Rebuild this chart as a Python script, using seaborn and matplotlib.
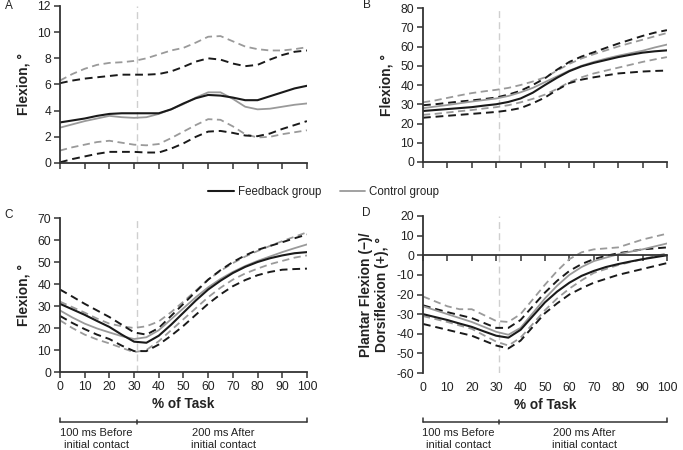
import numpy as np
import pandas as pd
import matplotlib
matplotlib.use("Agg")
import matplotlib.pyplot as plt
import matplotlib.transforms as mtransforms
from matplotlib.lines import Line2D
import seaborn as sns

# % of task, sampled every 5 %
pct = list(range(0, 101, 5))

# Panel A - flexion (deg)
a_fb_mean = [3.1, 3.25, 3.4, 3.6, 3.75, 3.8, 3.8, 3.8, 3.8, 4.1, 4.55, 4.95, 5.2, 5.15, 5.0, 4.8, 4.8, 5.1, 5.4, 5.7, 5.9]
a_ct_mean = [2.7, 2.95, 3.2, 3.4, 3.6, 3.5, 3.45, 3.5, 3.75, 4.1, 4.5, 5.0, 5.4, 5.4, 4.9, 4.3, 4.1, 4.15, 4.3, 4.45, 4.55]
a_fb_hi = [6.1, 6.3, 6.45, 6.55, 6.65, 6.75, 6.75, 6.75, 6.8, 7.0, 7.35, 7.75, 8.0, 7.9, 7.6, 7.4, 7.5, 7.9, 8.25, 8.5, 8.6]
a_ct_hi = [6.3, 6.8, 7.2, 7.5, 7.65, 7.7, 7.8, 8.0, 8.3, 8.6, 8.8, 9.2, 9.65, 9.7, 9.3, 8.9, 8.7, 8.6, 8.6, 8.7, 8.85]
a_fb_lo = [0.05, 0.3, 0.5, 0.7, 0.85, 0.85, 0.85, 0.8, 0.8, 1.1, 1.5, 2.0, 2.4, 2.45, 2.3, 2.1, 2.05, 2.25, 2.6, 2.9, 3.2]
a_ct_lo = [0.95, 1.2, 1.4, 1.6, 1.7, 1.55, 1.4, 1.35, 1.45, 1.9, 2.4, 2.9, 3.35, 3.3, 2.8, 2.2, 1.95, 2.0, 2.2, 2.35, 2.5]

# Panel B
b_fb_mean = [26.5, 27.0, 27.5, 28.0, 28.5, 29.3, 30.0, 31.2, 33.0, 36.0, 40.0, 43.8, 47.2, 49.7, 51.5, 53.0, 54.5, 55.7, 56.8, 57.5, 58.0]
b_ct_mean = [28.0, 28.8, 29.6, 30.5, 31.4, 32.2, 33.0, 34.3, 36.2, 38.5, 41.5, 44.5, 47.5, 50.0, 52.0, 53.7, 55.2, 56.5, 57.8, 59.5, 61.0]
b_fb_hi = [29.5, 30.0, 30.7, 31.4, 32.0, 32.7, 33.5, 35.0, 37.0, 40.0, 43.5, 48.0, 52.0, 54.8, 57.0, 59.3, 61.5, 63.5, 65.5, 67.2, 68.5]
b_ct_hi = [31.0, 32.0, 33.3, 34.6, 35.8, 36.7, 37.5, 38.5, 40.0, 41.8, 44.0, 47.5, 51.0, 53.8, 56.0, 58.0, 60.0, 61.8, 63.5, 65.3, 67.0]
b_fb_lo = [23.0, 23.5, 24.0, 24.5, 25.0, 25.5, 26.0, 26.8, 28.0, 30.5, 33.5, 37.5, 41.0, 42.8, 44.0, 45.0, 46.0, 46.5, 47.0, 47.3, 47.5]
b_ct_lo = [24.5, 25.0, 25.7, 26.4, 27.0, 27.8, 28.5, 29.5, 31.0, 32.8, 35.0, 38.0, 41.5, 44.0, 46.0, 47.5, 49.0, 50.5, 52.0, 53.3, 54.5]

# Panel C
c_fb_mean = [31.0, 28.5, 26.0, 23.2, 20.5, 17.0, 13.8, 13.3, 16.5, 21.5, 27.0, 32.5, 37.5, 41.5, 45.0, 47.8, 50.0, 51.7, 53.0, 54.0, 54.5]
c_ct_mean = [28.0, 24.8, 22.0, 19.8, 18.0, 16.3, 15.0, 15.8, 19.0, 24.0, 29.0, 34.0, 38.5, 42.3, 45.5, 48.2, 50.5, 52.5, 54.5, 56.3, 58.0]
c_fb_hi = [37.5, 34.3, 31.0, 28.0, 25.0, 21.5, 18.0, 17.0, 20.0, 25.5, 31.0, 36.5, 42.0, 46.3, 50.0, 53.0, 55.5, 57.3, 59.0, 60.8, 62.5]
c_ct_hi = [32.0, 29.5, 27.0, 24.3, 22.0, 20.8, 20.0, 20.8, 23.0, 27.2, 32.0, 37.0, 42.0, 46.0, 49.5, 52.5, 55.0, 57.3, 59.5, 61.5, 63.5]
c_fb_lo = [25.5, 22.3, 19.5, 17.0, 15.0, 12.0, 9.5, 9.5, 12.5, 16.5, 21.0, 26.0, 31.0, 35.3, 39.0, 41.8, 44.0, 45.5, 46.5, 46.8, 47.0]
c_ct_lo = [23.5, 20.0, 17.0, 14.8, 13.0, 11.0, 9.0, 10.0, 14.0, 19.0, 24.0, 29.0, 34.0, 38.3, 42.0, 44.8, 47.0, 49.0, 50.5, 52.0, 53.0]

# Panel D - plantar flexion (-) / dorsiflexion (+)
d_fb_mean = [-30.0, -31.5, -33.0, -34.8, -36.5, -38.8, -41.0, -42.0, -38.0, -31.0, -24.0, -18.5, -14.0, -10.5, -8.0, -6.0, -4.5, -3.2, -2.0, -1.0, 0.0]
d_ct_mean = [-26.0, -28.0, -30.0, -32.0, -34.0, -36.5, -39.0, -40.5, -37.0, -29.5, -22.0, -15.5, -10.0, -6.0, -3.0, -1.2, 0.5, 1.8, 3.0, 4.5, 6.0]
d_fb_hi = [-25.5, -27.3, -29.0, -30.5, -32.0, -34.5, -37.0, -37.0, -33.0, -26.0, -19.0, -13.0, -8.0, -4.5, -2.0, -0.3, 1.0, 2.0, 3.0, 3.5, 4.0]
d_ct_hi = [-21.0, -23.5, -26.0, -27.5, -27.5, -30.5, -33.5, -34.0, -30.0, -22.5, -15.0, -8.0, -2.0, 1.5, 3.0, 3.5, 4.0, 6.0, 8.0, 9.5, 11.0]
d_fb_lo = [-35.0, -36.5, -38.0, -39.5, -41.0, -43.5, -46.0, -47.5, -43.5, -36.5, -29.5, -24.5, -20.0, -16.8, -14.0, -12.0, -10.0, -8.5, -7.0, -5.5, -4.0]
d_ct_lo = [-31.0, -32.5, -34.0, -35.8, -37.5, -40.8, -44.0, -46.0, -42.0, -35.0, -28.0, -22.0, -17.0, -12.8, -9.0, -7.0, -5.0, -3.5, -2.0, -0.5, 1.0]

contact_pct = 31
x_ticks = list(range(0, 101, 10))

sns.set_style("ticks")
plt.rcParams["font.family"] = ["Liberation Sans", "DejaVu Sans"]
plt.rcParams["axes.unicode_minus"] = False

BLACK = "#1a1a1a"
GREY = "#9a9a9a"
TXT = "#222222"

fig = plt.figure(figsize=(6.83, 4.5), dpi=100)

panels = [
    # letter, rect, ylim, yticks, ylabel, series, bottom row
    ("A", [0.0878, 0.6378, 0.3616, 0.3489], (0, 12), range(0, 13, 2), "Flexion, °",
     (a_fb_mean, a_ct_mean, a_fb_hi, a_ct_hi, a_fb_lo, a_ct_lo), False),
    ("B", [0.6193, 0.6400, 0.3572, 0.3422], (0, 80), range(0, 81, 10), "Flexion, °",
     (b_fb_mean, b_ct_mean, b_fb_hi, b_ct_hi, b_fb_lo, b_ct_lo), False),
    ("C", [0.0878, 0.1733, 0.3616, 0.3422], (0, 70), range(0, 71, 10), "Flexion, °",
     (c_fb_mean, c_ct_mean, c_fb_hi, c_ct_hi, c_fb_lo, c_ct_lo), True),
    ("D", [0.6193, 0.1711, 0.3572, 0.3489], (-60, 20), range(-60, 21, 10),
     "Plantar Flexion (\u2212)/\nDorsiflexion (+), °",
     (d_fb_mean, d_ct_mean, d_fb_hi, d_ct_hi, d_fb_lo, d_ct_lo), True),
]

letter_pos = {"A": (5, 6), "B": (363, 5), "C": (4, 215), "D": (362, 213)}

for letter, rect, ylim, yticks, ylabel, series, bottom_row in panels:
    ax = fig.add_axes(rect)
    fb_mean, ct_mean, fb_hi, ct_hi, fb_lo, ct_lo = series

    ax.axvline(contact_pct, color="#cfcfcf", lw=1.0, ls=(0, (5, 3)), zorder=0)

    for vals in (ct_hi, ct_lo):
        sns.lineplot(x=pct, y=vals, ax=ax, color=GREY, lw=1.3, linestyle=(0, (4, 2.5)))
    for vals in (fb_hi, fb_lo):
        sns.lineplot(x=pct, y=vals, ax=ax, color=BLACK, lw=1.4, linestyle=(0, (4, 2.5)))
    sns.lineplot(x=pct, y=ct_mean, ax=ax, color=GREY, lw=1.3)
    sns.lineplot(x=pct, y=fb_mean, ax=ax, color=BLACK, lw=1.5)

    ax.set_xlim(0, 100)
    ax.set_ylim(*ylim)
    ax.set_xticks(x_ticks)
    ax.set_yticks(list(yticks))
    sns.despine(ax=ax)
    for s in ("left", "bottom"):
        ax.spines[s].set_color("#333333")
        ax.spines[s].set_linewidth(1.3)
    ax.tick_params(axis="both", direction="out", length=4, width=1.1, color="#333333",
                   labelsize=8.7, labelcolor=TXT, pad=2.5)
    ax.set_ylabel(ylabel, fontsize=10, fontweight="bold", color=TXT, labelpad=5)

    if letter == "D":
        ax.spines["bottom"].set_position(("data", 0))
        ax.tick_params(axis="x", labelbottom=False)
        sec = ax.secondary_xaxis("bottom")
        sec.set_xticks(x_ticks)
        sec.spines["bottom"].set_visible(False)
        sec.tick_params(length=0, labelsize=8.7, labelcolor=TXT, pad=6.5)
        lab_ax = sec
    else:
        lab_ax = ax

    if bottom_row:
        lab_ax.set_xlabel("% of Task", fontsize=9.8, fontweight="bold", color=TXT,
                          labelpad=2.5)
        # bracket marking the phases of the task
        height_px = rect[3] * 450
        yb = -(422 - (450 - rect[1] * 450)) / height_px
        tick_h = 4 / height_px
        tr = mtransforms.blended_transform_factory(ax.transData, ax.transAxes)
        ax.plot([0, 100], [yb, yb], color="#333333", lw=1.1, transform=tr, clip_on=False)
        ax.plot([0, 0], [yb, yb + tick_h], color="#333333", lw=1.1, transform=tr, clip_on=False)
        ax.plot([100, 100], [yb, yb + tick_h], color="#333333", lw=1.1, transform=tr, clip_on=False)
        ax.plot([contact_pct, contact_pct], [yb - tick_h * 0.6, yb + tick_h * 0.6],
                color="#333333", lw=1.1, transform=tr, clip_on=False)
        yt = yb - 6 / height_px
        ax.text(14.6, yt, "100 ms Before\ninitial contact", transform=tr, ha="center",
                va="top", fontsize=8, color=TXT, linespacing=1.3)
        ax.text(66.3, yt, "200 ms After\ninitial contact", transform=tr, ha="center",
                va="top", fontsize=8, color=TXT, linespacing=1.3)
    else:
        ax.tick_params(axis="x", labelbottom=False)

    lx, ly = letter_pos[letter]
    fig.text(lx / 683, 1 - ly / 450, letter, ha="left", va="center", fontsize=8.5,
             color=TXT)

handles = [Line2D([], [], color=BLACK, lw=1.5), Line2D([], [], color=GREY, lw=1.3)]
fig.legend(handles, ["Feedback group", "Control group"], loc="center",
           bbox_to_anchor=(0.474, 1 - 192 / 450), ncol=2, frameon=False, fontsize=8.3,
           handlelength=2.2, handletextpad=0.35, columnspacing=1.6, labelcolor=TXT)

fig.savefig("out.png", dpi=100)
